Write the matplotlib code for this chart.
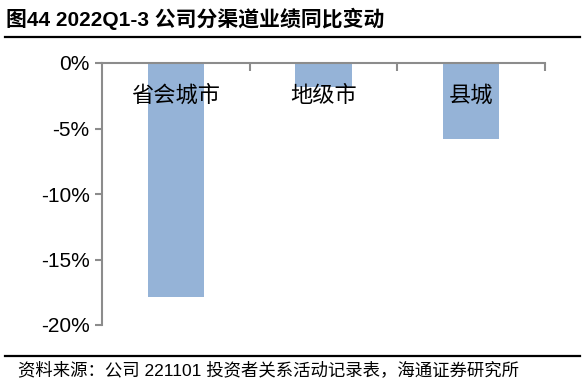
import matplotlib
matplotlib.use("Agg")
import matplotlib.pyplot as plt
from matplotlib.lines import Line2D

plt.rcParams['font.family'] = ['Liberation Sans', 'Noto Sans CJK SC', 'DejaVu Sans']

categories = ['省会城市', '地级市', '县城']
values = [-17.9, -1.8, -5.8]
yticks = [0, -5, -10, -15, -20]
ytick_labels = ['0%', '-5%', '-10%', '-15%', '-20%']
title = '图44 2022Q1-3 公司分渠道业绩同比变动'
source = '资料来源：公司 221101 投资者关系活动记录表，海通证券研究所'

W, H = 586, 386
fig = plt.figure(figsize=(W / 100, H / 100), dpi=100)
ax = fig.add_axes([102 / W, 1 - 325 / H, (545 - 102) / W, (325 - 63) / H])

x = list(range(len(categories)))
ax.bar(x, values, width=0.38, color='#95B3D7', zorder=2)
ax.set_xlim(-0.5, len(categories) - 0.5)
ax.set_ylim(-20, 0)

axis_color = '#8C8C8C'
for s in ['right', 'bottom']:
    ax.spines[s].set_visible(False)
for s in ['left', 'top']:
    ax.spines[s].set_color(axis_color)
    ax.spines[s].set_linewidth(1.5)
ax.spines['top'].set_zorder(3)

ax.set_yticks(yticks)
ax.set_yticklabels(ytick_labels, fontsize=15)
ax.tick_params(axis='y', direction='out', length=5, width=1.5, color=axis_color, pad=4)

ax.xaxis.set_ticks_position('top')
ax.set_xticks([i + 0.5 for i in x])
ax.set_xticklabels([])
ax.tick_params(axis='x', direction='in', length=6, width=1.5, color=axis_color)

for xi, lab in zip(x, categories):
    ax.text(xi, -2.45, lab, ha='center', va='center', fontsize=16,
            family=['Noto Sans CJK SC'], zorder=4)

fig.text(6 / W, 1 - 19 / H, title, fontsize=15, fontweight='bold', ha='left', va='center')
fig.add_artist(Line2D([5 / W, 580 / W], [1 - 37 / H, 1 - 37 / H], color='black', lw=1.6))
fig.add_artist(Line2D([5 / W, 580 / W], [1 - 356 / H, 1 - 356 / H], color='black', lw=1.6))
fig.text(18 / W, 1 - 370 / H, source, fontsize=12.5, ha='left', va='center')

fig.savefig('out.png', dpi=100)
